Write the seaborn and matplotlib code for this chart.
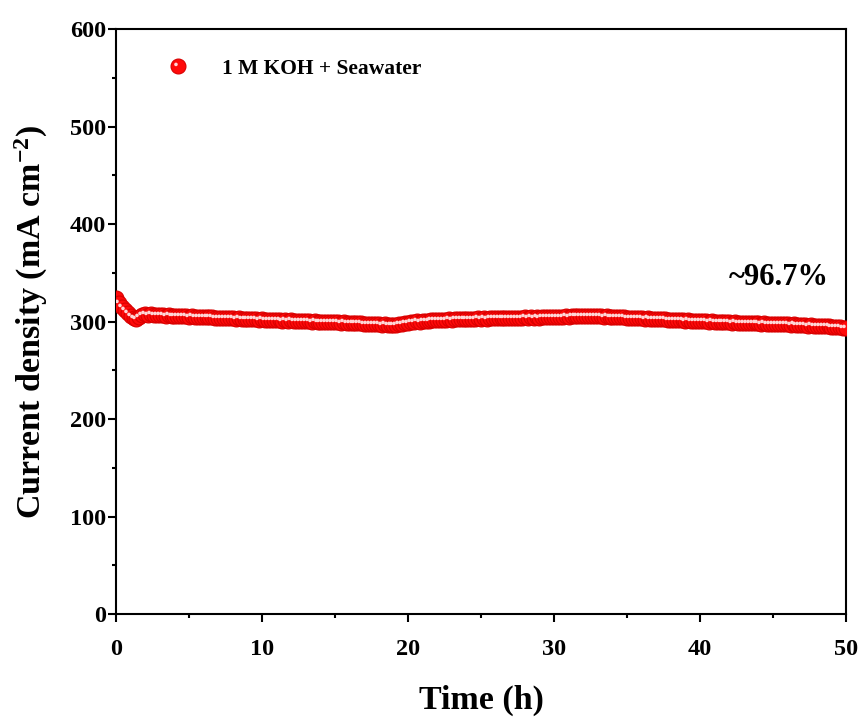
import numpy as np
import pandas as pd
import seaborn as sns
import matplotlib
matplotlib.use("Agg")
import matplotlib.pyplot as plt
from matplotlib.path import Path
from matplotlib.lines import Line2D
from matplotlib.legend_handler import HandlerTuple
from matplotlib.ticker import MultipleLocator

# Chronoamperometry record, one sample every 0.2 h
time_h = np.round(np.arange(251) * 0.2, 1)
current_density = [
    324.0, 319.0, 315.0, 311.5, 308.5, 306.0, 304.0, 303.0, 304.5, 306.5,
    307.5, 307.0, 307.2, 306.6, 306.9, 306.3, 306.5, 306.0, 306.2, 305.8,
    305.6, 305.9, 305.4, 305.2, 305.5, 305.0, 305.3, 304.8, 305.1, 304.6,
    304.9, 304.4, 304.2, 304.6, 304.0, 303.8, 304.1, 303.5, 303.7, 303.2,
    303.4, 302.9, 303.1, 302.6, 302.8, 302.3, 302.5, 302.1, 302.4, 301.9,
    302.1, 301.7, 301.9, 301.4, 301.6, 301.2, 301.5, 301.0, 301.3, 300.9,
    301.1, 300.7, 300.9, 300.5, 300.7, 300.3, 300.5, 300.0, 300.2, 299.8,
    300.0, 299.6, 299.8, 299.4, 299.5, 299.1, 299.3, 298.8, 299.0, 298.6,
    298.8, 298.3, 298.5, 298.0, 298.2, 297.7, 297.9, 297.4, 297.6, 297.1,
    297.3, 296.8, 297.0, 296.5, 296.7, 296.3, 296.6, 297.2, 297.8, 298.4,
    298.9, 299.4, 299.8, 300.3, 300.0, 300.6, 300.9, 300.6, 301.1, 301.4,
    301.1, 301.6, 301.3, 301.9, 302.2, 301.9, 302.4, 302.1, 302.6, 302.3,
    302.8, 302.5, 303.0, 302.7, 303.1, 302.8, 303.3, 303.0, 303.5, 303.2,
    303.6, 303.3, 303.8, 303.4, 303.9, 303.6, 304.0, 303.7, 304.1, 303.8,
    304.2, 303.9, 304.3, 304.0, 304.4, 304.1, 304.5, 304.2, 304.6, 304.3,
    304.7, 304.5, 304.9, 304.7, 305.2, 305.0, 305.4, 305.3, 305.7, 305.5,
    306.0, 305.8, 306.1, 305.7, 305.9, 305.4, 305.6, 305.1, 305.3, 304.8,
    304.9, 304.5, 304.7, 304.2, 304.3, 303.9, 304.0, 303.6, 303.8, 303.3,
    303.5, 303.0, 303.2, 302.8, 302.9, 302.5, 302.7, 302.2, 302.4, 301.9,
    302.0, 301.6, 301.8, 301.3, 301.5, 301.0, 301.2, 300.8, 300.9, 300.5,
    300.6, 300.2, 300.4, 299.9, 300.1, 299.6, 299.8, 299.3, 299.5, 299.1,
    299.2, 298.8, 299.0, 298.6, 298.8, 298.4, 298.6, 298.2, 298.4, 298.0,
    298.2, 297.8, 298.0, 297.6, 297.8, 297.4, 297.6, 297.2, 297.4, 297.0,
    297.2, 296.8, 297.0, 296.5, 296.7, 296.2, 296.4, 295.9, 296.1, 295.6,
    295.7, 295.2, 295.4, 294.9, 295.0, 294.5, 294.6, 294.1, 294.2, 293.8,
    293.6,
]
series_label = "1 M KOH + Seawater"
retention_text = "~96.7%"
x_ticks = [0, 10, 20, 30, 40, 50]
y_ticks = [0, 100, 200, 300, 400, 500, 600]

df = pd.DataFrame({"t": time_h, "j": current_density})

sns.set_theme(style="ticks")
plt.rcParams["font.family"] = ["Liberation Serif", "DejaVu Serif"]
plt.rcParams["font.weight"] = "bold"
plt.rcParams["text.color"] = "black"
plt.rcParams["axes.labelcolor"] = "black"
plt.rcParams["xtick.color"] = "black"
plt.rcParams["ytick.color"] = "black"
plt.rcParams["mathtext.fontset"] = "custom"
plt.rcParams["mathtext.rm"] = "Liberation Serif:bold"
plt.rcParams["mathtext.default"] = "rm"

fig = plt.figure(figsize=(8.66, 7.2), dpi=100)
ax = fig.add_axes([0.134, 0.1472, 0.843, 0.8125])

ball_size = 115
ball_red = "#ff0a0a"
edge_red = "#d80000"
shine = "#ffd6d6"

# off-centre glint marker: small disc up-left, padded so the marker box stays unit-sized
glint = Path.make_compound_path(
    Path.circle(center=(-0.17, 0.14), radius=0.12),
    Path([(0.5, 0.5), (-0.5, -0.5)], [Path.MOVETO, Path.MOVETO]),
)

sns.scatterplot(data=df, x="t", y="j", ax=ax, s=ball_size, color=ball_red,
                edgecolor=edge_red, linewidth=0.8, zorder=3, legend=False)
sns.scatterplot(data=df, x="t", y="j", ax=ax, s=ball_size, marker=glint,
                color=shine, linewidth=0, zorder=4, legend=False)

ax.set_xlim(0, 50)
ax.set_ylim(0, 600)
ax.set_xticks(x_ticks)
ax.set_yticks(y_ticks)
ax.xaxis.set_minor_locator(MultipleLocator(5))
ax.yaxis.set_minor_locator(MultipleLocator(50))
ax.tick_params(which="major", direction="out", length=6, width=1.5,
               labelsize=17.5, top=False, right=False)
ax.tick_params(axis="y", which="major", pad=1)
ax.tick_params(axis="x", which="major", pad=12)
ax.tick_params(which="minor", direction="out", length=3, width=1.5,
               top=False, right=False)
for lab in ax.get_xticklabels() + ax.get_yticklabels():
    lab.set_fontweight("bold")
for sp in ax.spines.values():
    sp.set_visible(True)
    sp.set_linewidth(1.5)
    sp.set_color("black")

ax.set_xlabel("Time (h)", fontsize=24.5, fontweight="bold", labelpad=18)
ax.set_ylabel(r"Current density (mA cm$^{-2}$)", fontsize=24.5,
              fontweight="bold")
ax.yaxis.set_label_coords(-0.09, 0.5)

ax.text(45.4, 345, retention_text, fontsize=22, fontweight="bold",
        ha="center", va="center")

h_ball = Line2D([], [], linestyle="none", marker="o", markersize=np.sqrt(ball_size),
                markerfacecolor=ball_red, markeredgecolor=edge_red, markeredgewidth=0.8)
h_glint = Line2D([], [], linestyle="none", marker=glint, markersize=np.sqrt(ball_size),
                 markerfacecolor=shine, markeredgewidth=0)
ax.legend([(h_ball, h_glint)], [series_label],
          handler_map={tuple: HandlerTuple(ndivide=1)},
          loc="center left", bbox_to_anchor=(0.0616, 0.932), frameon=False,
          prop={"weight": "bold", "size": 15.5},
          handlelength=1.6, handletextpad=1.25, borderaxespad=0.0,
          borderpad=0.0)

fig.savefig("out.png", dpi=100)
